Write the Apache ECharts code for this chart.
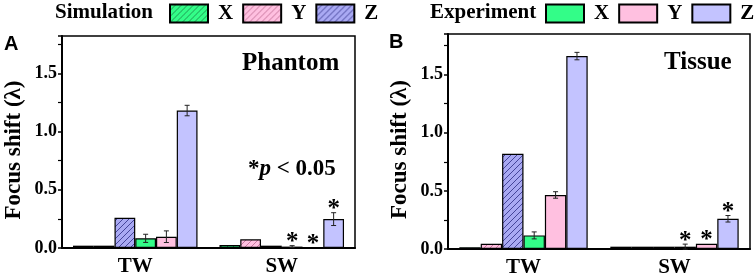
<!DOCTYPE html>
<html><head><meta charset="utf-8">
<script src="https://cdn.jsdelivr.net/npm/echarts@6/dist/echarts.min.js"></script>
<style>html,body{margin:0;padding:0;background:#fff}#c{width:754px;height:278px}</style>
</head><body><div id="c"></div>
<script>
// ---------- data ----------
const categories = ['TW', 'SW'];
const yTicks = [0, 0.5, 1.0, 1.5];

// Panel A: Phantom
const phantomSimX = [0.02, 0.025];
const phantomSimY = [0.02, 0.075];
const phantomSimZ = [0.26, 0.02];
const phantomExpX = [0.083, 0.012];
const phantomExpY = [0.097, 0.005];
const phantomExpZ = [1.18, 0.248];
const phantomErrX = [0.035, 0.008];
const phantomErrY = [0.05, 0];
const phantomErrZ = [0.045, 0.055];
const phantomSigX = [0, 1];
const phantomSigY = [0, 1];
const phantomSigZ = [0, 1];

// Panel B: Tissue
const tissueSimX = [0.015, 0.02];
const tissueSimY = [0.045, 0.02];
const tissueSimZ = [0.82, 0.02];
const tissueExpX = [0.117, 0.02];
const tissueExpY = [0.465, 0.045];
const tissueExpZ = [1.66, 0.26];
const tissueErrX = [0.03, 0.022];
const tissueErrY = [0.028, 0];
const tissueErrZ = [0.032, 0.028];
const tissueSigX = [0, 1];
const tissueSigY = [0, 1];
const tissueSigZ = [0, 1];

// ---------- styles ----------
const SERIF = 'Liberation Serif';
const colX = '#33fd88', colY = '#ffc0e0', colZ = '#c3c3ff';
const simZBg = '#a9a9f3';
function hatch(bg, line) {
  const c = document.createElement('canvas');
  const s = 6;
  c.width = s; c.height = s;
  const g = c.getContext('2d');
  g.fillStyle = bg; g.fillRect(0, 0, s, s);
  g.strokeStyle = line; g.lineWidth = 1;
  g.beginPath();
  g.moveTo(0, s); g.lineTo(s, 0);
  g.moveTo(-1, 1); g.lineTo(1, -1);
  g.moveTo(s - 1, s + 1); g.lineTo(s + 1, s - 1);
  g.stroke();
  return { image: c, repeat: 'repeat' };
}
const hatchX = hatch(colX, '#1f9a52');
const hatchY = hatch(colY, '#c9789f');
const hatchZ = hatch(simZBg, '#45459a');

const GAP = 0.15, NB = 6;

function barSeries(name, data, color, gi) {
  return {
    type: 'bar', name: name, xAxisIndex: gi, yAxisIndex: gi, data: data,
    barGap: '0%', barCategoryGap: (GAP * 100) + '%',
    itemStyle: { color: color, borderColor: '#000', borderWidth: 1.2 },
    emphasis: { disabled: true }, animation: false
  };
}

function errSeries(gi, vals, errs, sigs) {
  const data = [];
  for (let b = 0; b < 3; b++) {
    for (let ci = 0; ci < categories.length; ci++) {
      data.push([ci, vals[b][ci], errs[b][ci], sigs[b][ci], b + 3]);
    }
  }
  return {
    type: 'custom', xAxisIndex: gi, yAxisIndex: gi, data: data, z: 5,
    encode: { x: 0, y: 1 }, animation: false, silent: true,
    renderItem: function (params, api) {
      const ci = api.value(0), v = api.value(1), e = api.value(2), sig = api.value(3), bi = api.value(4);
      const catW = api.size([1, 0])[0];
      const bw = catW * (1 - GAP) / NB;
      const c = api.coord([ci, v]);
      const x = c[0] + (bi - 2.5) * bw;
      const top = api.coord([ci, v + e])[1];
      const bot = api.coord([ci, v - e])[1];
      const ch = [];
      const st = { stroke: '#222', lineWidth: 1 };
      if (e > 0) {
        ch.push({ type: 'line', shape: { x1: x, y1: top, x2: x, y2: bot }, style: st });
        ch.push({ type: 'line', shape: { x1: x - 2.5, y1: top, x2: x + 2.5, y2: top }, style: st });
        ch.push({ type: 'line', shape: { x1: x - 2.5, y1: bot, x2: x + 2.5, y2: bot }, style: st });
      }
      if (sig) {
        ch.push({ type: 'text', style: { text: '*', x: x, y: top - 3, align: 'center', verticalAlign: 'middle',
          font: 'bold 25px "' + SERIF + '"', fill: '#000' } });
      }
      return { type: 'group', children: ch };
    }
  };
}

function yAxisCfg(gi, max) {
  return {
    type: 'value', gridIndex: gi, min: 0, max: max, interval: 0.5,
    name: 'Focus shift (λ)', nameLocation: 'middle', nameGap: 36,
    nameTextStyle: { fontFamily: SERIF, fontWeight: 'bold', fontSize: 23, color: '#000', padding: [0, 16, 0, 0] },
    axisLine: { show: true, lineStyle: { color: '#000', width: 2 } },
    axisTick: { show: true, inside: false, length: 4, lineStyle: { color: '#000', width: 1.5 } },
    minorTick: { show: true, splitNumber: 2, length: 4, lineStyle: { color: '#000', width: 1.2 } },
    splitLine: { show: false },
    axisLabel: {
      showMaxLabel: false, margin: 5, color: '#000', fontFamily: SERIF, fontWeight: 'bold', fontSize: 18,
      formatter: function (v) { return yTicks.indexOf(v) >= 0 ? v.toFixed(1) : ''; }
    }
  };
}
function xAxisCfg(gi) {
  return {
    type: 'category', gridIndex: gi, data: categories,
    axisLine: { show: true, lineStyle: { color: '#000', width: 2 } },
    axisTick: { show: false },
    axisLabel: { margin: 8, color: '#000', fontFamily: SERIF, fontWeight: 'bold', fontSize: 21 }
  };
}

const legendText = { fontFamily: SERIF, fontWeight: 'bold', fontSize: 21, lineHeight: 18, color: '#000', padding: [0, 0, 0, 5] };

const option = {
  backgroundColor: '#fff',
  animation: false,
  grid: [
    { left: 62, top: 36, width: 293, height: 212, show: true, borderColor: '#000', borderWidth: 1.5 },
    { left: 448, top: 34, width: 302, height: 217, show: true, borderColor: '#000', borderWidth: 1.5 }
  ],
  xAxis: [xAxisCfg(0), xAxisCfg(1)],
  yAxis: [yAxisCfg(0, 1.82), yAxisCfg(1, 1.85)],
  legend: [
    { left: 169, top: 3, width: 400, padding: 0, icon: 'rect', itemWidth: 38, itemHeight: 18, itemGap: 9, selectedMode: false,
      data: ['A_simX', 'A_simY', 'A_simZ'], formatter: n => n.slice(-1), textStyle: legendText },
    { left: 545, top: 3, width: 400, padding: 0, icon: 'rect', itemWidth: 38, itemHeight: 18, itemGap: 9, selectedMode: false,
      data: ['B_expX', 'B_expY', 'B_expZ'], formatter: n => n.slice(-1), textStyle: legendText }
  ],
  graphic: [
    { type: 'text', left: 55, top: 2, style: { text: 'Simulation', font: 'bold 21px "' + SERIF + '"', fill: '#000' } },
    { type: 'text', left: 430, top: 2, style: { text: 'Experiment', font: 'bold 21px "' + SERIF + '"', fill: '#000' } },
    { type: 'text', left: 4, top: 34, style: { text: 'A', font: 'bold 20px "Liberation Sans"', fill: '#000' } },
    { type: 'text', left: 389, top: 32, style: { text: 'B', font: 'bold 20px "Liberation Sans"', fill: '#000' } },
    { type: 'text', left: 242, top: 51, style: { text: 'Phantom', font: 'bold 25px "' + SERIF + '"', fill: '#000' } },
    { type: 'text', left: 664, top: 50, style: { text: 'Tissue', font: 'bold 25px "' + SERIF + '"', fill: '#000' } },
    { type: 'text', left: 248, top: 158, style: {
      text: '{a|*}{p|p}{a| < 0.05}',
      rich: {
        a: { fontFamily: SERIF, fontWeight: 'bold', fontSize: 23, fill: '#000' },
        p: { fontFamily: SERIF, fontWeight: 'bold', fontStyle: 'italic', fontSize: 23, fill: '#000' }
      } } }
  ],
  series: [
    barSeries('A_simX', phantomSimX, hatchX, 0),
    barSeries('A_simY', phantomSimY, hatchY, 0),
    barSeries('A_simZ', phantomSimZ, hatchZ, 0),
    barSeries('A_expX', phantomExpX, colX, 0),
    barSeries('A_expY', phantomExpY, colY, 0),
    barSeries('A_expZ', phantomExpZ, colZ, 0),
    errSeries(0, [phantomExpX, phantomExpY, phantomExpZ], [phantomErrX, phantomErrY, phantomErrZ], [phantomSigX, phantomSigY, phantomSigZ]),
    barSeries('B_simX', tissueSimX, hatchX, 1),
    barSeries('B_simY', tissueSimY, hatchY, 1),
    barSeries('B_simZ', tissueSimZ, hatchZ, 1),
    barSeries('B_expX', tissueExpX, colX, 1),
    barSeries('B_expY', tissueExpY, colY, 1),
    barSeries('B_expZ', tissueExpZ, colZ, 1),
    errSeries(1, [tissueExpX, tissueExpY, tissueExpZ], [tissueErrX, tissueErrY, tissueErrZ], [tissueSigX, tissueSigY, tissueSigZ])
  ]
};
const chart = echarts.init(document.getElementById('c'), null, { renderer: 'canvas' });
chart.setOption(option);
</script>
</body></html>
